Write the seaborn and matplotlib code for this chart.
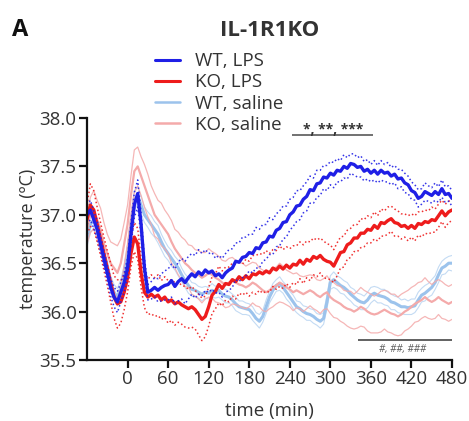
import numpy as np
import pandas as pd
import matplotlib
matplotlib.use("Agg")
import matplotlib.pyplot as plt
from matplotlib.lines import Line2D
import seaborn as sns

# ---------------- data ----------------
time_min = list(range(-60, 481, 5))

wt_lps_mean = [
    37.00, 37.05, 36.95, 36.85, 36.70, 36.55, 36.40, 36.25, 36.15, 36.10, 36.20, 36.30,
    36.45, 36.80, 37.10, 37.22, 36.90, 36.45, 36.20, 36.22, 36.25, 36.22, 36.25, 36.27,
    36.28, 36.32, 36.26, 36.31, 36.34, 36.30, 36.35, 36.39, 36.36, 36.41, 36.38, 36.43,
    36.40, 36.42, 36.37, 36.39, 36.35, 36.40, 36.43, 36.45, 36.52, 36.51, 36.56, 36.57,
    36.61, 36.60, 36.66, 36.65, 36.71, 36.72, 36.78, 36.77, 36.84, 36.86, 36.92, 36.93,
    37.00, 37.03, 37.09, 37.10, 37.16, 37.19, 37.26, 37.25, 37.32, 37.33, 37.39, 37.38,
    37.43, 37.41, 37.46, 37.45, 37.50, 37.48, 37.53, 37.52, 37.49, 37.50, 37.45, 37.47,
    37.43, 37.46, 37.42, 37.46, 37.43, 37.44, 37.40, 37.42, 37.37, 37.38, 37.33, 37.31,
    37.25, 37.23, 37.17, 37.19, 37.24, 37.22, 37.20, 37.24, 37.21, 37.27, 37.21, 37.22,
    37.17]
wt_lps_sem = [
    0.10, 0.10, 0.09, 0.09, 0.08, 0.08, 0.08, 0.09, 0.10, 0.11, 0.10, 0.10,
    0.10, 0.12, 0.13, 0.14, 0.12, 0.10, 0.08, 0.09, 0.10, 0.12, 0.14, 0.15,
    0.16, 0.17, 0.18, 0.20, 0.21, 0.22, 0.22, 0.21, 0.22, 0.23, 0.22, 0.21,
    0.20, 0.19, 0.18, 0.19, 0.20, 0.20, 0.21, 0.20, 0.19, 0.20, 0.21, 0.20,
    0.19, 0.20, 0.21, 0.20, 0.19, 0.18, 0.19, 0.18, 0.17, 0.18, 0.17, 0.16,
    0.16, 0.15, 0.16, 0.15, 0.14, 0.15, 0.14, 0.13, 0.14, 0.13, 0.12, 0.13,
    0.12, 0.13, 0.12, 0.11, 0.12, 0.11, 0.10, 0.11, 0.10, 0.11, 0.10, 0.10,
    0.09, 0.10, 0.09, 0.10, 0.09, 0.10, 0.09, 0.09, 0.10, 0.09, 0.10, 0.09,
    0.09, 0.08, 0.09, 0.08, 0.09, 0.08, 0.08, 0.09, 0.08, 0.09, 0.08, 0.08,
    0.08]

ko_lps_mean = [
    36.95, 37.10, 37.05, 36.90, 36.75, 36.60, 36.45, 36.30, 36.15, 36.08, 36.10, 36.20,
    36.35, 36.60, 36.77, 36.70, 36.40, 36.20, 36.15, 36.18, 36.15, 36.17, 36.12, 36.15,
    36.10, 36.12, 36.08, 36.10, 36.07, 36.05, 36.03, 36.05, 36.02, 35.97, 35.92, 35.95,
    36.05, 36.17, 36.21, 36.28, 36.24, 36.29, 36.28, 36.33, 36.31, 36.36, 36.33, 36.37,
    36.34, 36.39, 36.38, 36.41, 36.39, 36.42, 36.40, 36.45, 36.43, 36.47, 36.44, 36.48,
    36.45, 36.49, 36.48, 36.53, 36.49, 36.54, 36.52, 36.57, 36.55, 36.58, 36.54, 36.52,
    36.51, 36.47, 36.54, 36.61, 36.62, 36.69, 36.71, 36.76, 36.76, 36.81, 36.81, 36.85,
    36.84, 36.89, 36.86, 36.92, 36.91, 36.94, 36.96, 36.92, 36.91, 36.88, 36.89, 36.86,
    36.89, 36.86, 36.91, 36.90, 36.93, 36.92, 36.95, 36.94, 36.99, 37.04, 36.99, 37.03,
    37.05]
ko_lps_sem = [
    0.15, 0.22, 0.20, 0.18, 0.17, 0.17, 0.18, 0.20, 0.22, 0.25, 0.22, 0.18,
    0.15, 0.14, 0.15, 0.16, 0.15, 0.16, 0.18, 0.20, 0.20, 0.21, 0.20, 0.21,
    0.22, 0.21, 0.22, 0.21, 0.20, 0.21, 0.20, 0.21, 0.20, 0.21, 0.22, 0.21,
    0.20, 0.19, 0.18, 0.19, 0.18, 0.17, 0.18, 0.17, 0.18, 0.17, 0.16, 0.17,
    0.18, 0.19, 0.20, 0.19, 0.20, 0.21, 0.20, 0.19, 0.20, 0.21, 0.20, 0.19,
    0.20, 0.19, 0.20, 0.19, 0.20, 0.19, 0.20, 0.19, 0.19, 0.18, 0.19, 0.18,
    0.18, 0.17, 0.17, 0.16, 0.16, 0.15, 0.15, 0.14, 0.14, 0.15, 0.14, 0.14,
    0.13, 0.14, 0.13, 0.14, 0.13, 0.14, 0.13, 0.14, 0.13, 0.13, 0.12, 0.13,
    0.12, 0.13, 0.12, 0.13, 0.12, 0.12, 0.13, 0.12, 0.12, 0.11, 0.12, 0.11,
    0.11]

wt_sal_mean = [
    36.75, 36.90, 36.95, 36.85, 36.70, 36.55, 36.45, 36.30, 36.20, 36.15, 36.25, 36.40,
    36.60, 36.90, 37.15, 37.20, 37.10, 37.00, 36.95, 36.90, 36.85, 36.80, 36.72, 36.65,
    36.60, 36.55, 36.50, 36.45, 36.38, 36.32, 36.27, 36.23, 36.22, 36.20, 36.18, 36.20,
    36.19, 36.22, 36.20, 36.22, 36.18, 36.16, 36.15, 36.12, 36.08, 36.05, 36.04, 36.03,
    36.02, 35.98, 35.93, 35.90, 35.95, 36.05, 36.15, 36.22, 36.27, 36.29, 36.25, 36.20,
    36.15, 36.10, 36.05, 36.03, 36.00, 35.98, 35.97, 35.95, 35.92, 35.90, 35.93, 36.10,
    36.30, 36.33, 36.30, 36.27, 36.25, 36.22, 36.18, 36.15, 36.12, 36.10, 36.09, 36.12,
    36.17, 36.19, 36.17, 36.16, 36.15, 36.13, 36.10, 36.09, 36.07, 36.05, 36.05, 36.04,
    36.05, 36.06, 36.12, 36.17, 36.19, 36.22, 36.25, 36.30, 36.38, 36.45, 36.47, 36.50,
    36.50]
wt_sal_sem = [
    0.08, 0.09, 0.08, 0.07, 0.08, 0.07, 0.08, 0.07, 0.08, 0.09, 0.08, 0.08,
    0.09, 0.10, 0.10, 0.09, 0.09, 0.08, 0.08, 0.09, 0.08, 0.09, 0.08, 0.08,
    0.07, 0.08, 0.07, 0.08, 0.07, 0.07, 0.08, 0.07, 0.07, 0.06, 0.07, 0.06,
    0.06, 0.07, 0.06, 0.07, 0.06, 0.07, 0.06, 0.06, 0.07, 0.06, 0.07, 0.06,
    0.06, 0.07, 0.06, 0.07, 0.06, 0.07, 0.06, 0.07, 0.06, 0.07, 0.06, 0.07,
    0.06, 0.07, 0.06, 0.07, 0.06, 0.07, 0.06, 0.07, 0.06, 0.07, 0.06, 0.07,
    0.07, 0.08, 0.07, 0.08, 0.07, 0.08, 0.07, 0.08, 0.07, 0.08, 0.07, 0.08,
    0.08, 0.07, 0.08, 0.07, 0.08, 0.07, 0.08, 0.07, 0.08, 0.07, 0.08, 0.07,
    0.08, 0.07, 0.08, 0.07, 0.08, 0.07, 0.08, 0.07, 0.08, 0.07, 0.08, 0.07,
    0.08]

ko_sal_mean = [
    36.85, 37.00, 37.05, 36.95, 36.85, 36.70, 36.60, 36.50, 36.45, 36.40, 36.50, 36.70,
    36.90, 37.20, 37.45, 37.50, 37.40, 37.30, 37.20, 37.10, 37.00, 36.95, 36.90, 36.85,
    36.80, 36.72, 36.65, 36.60, 36.55, 36.50, 36.47, 36.43, 36.40, 36.38, 36.35, 36.37,
    36.40, 36.38, 36.35, 36.33, 36.30, 36.28, 36.30, 36.32, 36.30, 36.28, 36.27, 36.25,
    36.27, 36.30, 36.28, 36.25, 36.22, 36.20, 36.22, 36.25, 36.27, 36.30, 36.28, 36.25,
    36.23, 36.20, 36.22, 36.20, 36.18, 36.20, 36.22, 36.20, 36.17, 36.15, 36.18, 36.20,
    36.15, 36.12, 36.10, 36.08, 36.05, 36.03, 36.02, 36.00, 36.02, 36.05, 36.03, 36.00,
    35.98, 35.97, 35.98, 36.00, 36.02, 36.00, 35.98, 35.97, 35.95, 35.97, 36.00, 36.02,
    36.05, 36.08, 36.10, 36.12, 36.15, 36.12, 36.10, 36.12, 36.15, 36.12, 36.10, 36.08,
    36.10]
ko_sal_sem = [
    0.15, 0.18, 0.20, 0.20, 0.22, 0.22, 0.20, 0.22, 0.25, 0.28, 0.25, 0.22,
    0.20, 0.20, 0.22, 0.20, 0.20, 0.22, 0.22, 0.20, 0.22, 0.20, 0.22, 0.20,
    0.20, 0.22, 0.20, 0.22, 0.22, 0.24, 0.22, 0.25, 0.24, 0.25, 0.26, 0.24,
    0.25, 0.24, 0.25, 0.24, 0.23, 0.24, 0.25, 0.24, 0.23, 0.22, 0.23, 0.22,
    0.22, 0.21, 0.22, 0.20, 0.21, 0.20, 0.19, 0.20, 0.19, 0.20, 0.19, 0.18,
    0.18, 0.19, 0.18, 0.17, 0.18, 0.17, 0.16, 0.17, 0.16, 0.17, 0.16, 0.17,
    0.17, 0.18, 0.17, 0.18, 0.17, 0.18, 0.19, 0.18, 0.19, 0.20, 0.19, 0.20,
    0.20, 0.19, 0.20, 0.21, 0.20, 0.21, 0.20, 0.21, 0.20, 0.21, 0.20, 0.20,
    0.20, 0.19, 0.20, 0.19, 0.20, 0.19, 0.18, 0.19, 0.18, 0.19, 0.18, 0.18,
    0.18]

group_labels = ["WT, LPS", "KO, LPS", "WT, saline", "KO, saline"]
x_ticks = [0, 60, 120, 180, 240, 300, 360, 420, 480]
y_ticks = [35.5, 36.0, 36.5, 37.0, 37.5, 38.0]

# significance annotations (time range, temperature level, label)
sig_lps_range = (244, 363)
sig_lps_level = 37.82
sig_lps_text = "*, **, ***"
sig_ko_range = (341, 480)
sig_ko_level = 35.71
sig_ko_text = "#, ##, ###"

# ---------------- style ----------------
sns.set_theme(style="ticks")
plt.rcParams["font.family"] = ["Open Sans", "DejaVu Sans"]

colors = {
    "WT, LPS": "#1f1fe6",
    "KO, LPS": "#ee1c1c",
    "WT, saline": "#9cc3ec",
    "KO, saline": "#f4aaaa",
}

fig = plt.figure(figsize=(4.69, 4.21), dpi=100)
ax = fig.add_axes([0.1855, 0.1449, 0.7783, 0.5748])

t = np.array(time_min)
series = {
    "WT, saline": (np.array(wt_sal_mean), np.array(wt_sal_sem)),
    "KO, saline": (np.array(ko_sal_mean), np.array(ko_sal_sem)),
    "KO, LPS": (np.array(ko_lps_mean), np.array(ko_lps_sem)),
    "WT, LPS": (np.array(wt_lps_mean), np.array(wt_lps_sem)),
}
main_lw = {"WT, LPS": 2.4, "KO, LPS": 2.4, "WT, saline": 2.2, "KO, saline": 1.6}
sem_style = {"WT, LPS": ":", "KO, LPS": ":", "WT, saline": "-", "KO, saline": "-"}
sem_lw = {"WT, LPS": 1.1, "KO, LPS": 1.1, "WT, saline": 0.8, "KO, saline": 0.9}
sem_alpha = {"WT, LPS": 0.9, "KO, LPS": 0.9, "WT, saline": 0.6, "KO, saline": 0.85}

for name, (m, s) in series.items():
    df = pd.DataFrame({"time": t, "mean": m, "upper": m + s, "lower": m - s})
    for col in ["upper", "lower"]:
        sns.lineplot(data=df, x="time", y=col, ax=ax, color=colors[name],
                     lw=sem_lw[name], ls=sem_style[name], alpha=sem_alpha[name],
                     estimator=None, legend=False)
    sns.lineplot(data=df, x="time", y="mean", ax=ax, color=colors[name],
                 lw=main_lw[name], estimator=None, legend=False)

ax.set_xlim(-60, 480)
ax.set_ylim(35.5, 38.0)
ax.set_xticks(x_ticks)
ax.set_xticklabels([str(v) for v in x_ticks])
ax.set_yticks(y_ticks)
ax.set_yticklabels([f"{v:.1f}" for v in y_ticks])
sns.despine(ax=ax)
for sp in ["left", "bottom"]:
    ax.spines[sp].set_linewidth(1.6)
    ax.spines[sp].set_color("#111111")
ax.tick_params(axis="both", length=5.5, width=1.6, color="#111111",
               labelsize=13.5, labelcolor="#333333", pad=2)
ax.set_xlabel("time (min)", fontsize=13.5, color="#333333", labelpad=10)
ax.set_ylabel("temperature (ºC)", fontsize=13, color="#333333", labelpad=2)

# significance bars
ax.hlines(sig_lps_level, *sig_lps_range, color="#666666", lw=1.3, clip_on=False)
ax.text(np.mean(sig_lps_range), sig_lps_level + 0.06, sig_lps_text, ha="center",
        va="center", fontsize=10, fontweight="bold", color="#333333", clip_on=False)
ax.hlines(sig_ko_level, *sig_ko_range, color="#555555", lw=1.3, clip_on=False)
ax.text(np.mean(sig_ko_range) - 4, sig_ko_level - 0.04, sig_ko_text, ha="center",
        va="top", fontsize=7, color="#555555", style="italic")

# legend
handles = [Line2D([0], [0], color=colors[n], lw=2.2 if "LPS" in n else 1.8)
           for n in group_labels]
fig.legend(handles, group_labels, loc="upper left",
           bbox_to_anchor=(0.3305, 0.876), frameon=False, fontsize=13.5,
           handlelength=1.35, handletextpad=0.8, labelspacing=0.17,
           borderpad=0, borderaxespad=0, labelcolor="#333333")

fig.text(0.575, 1 - 30 / 421, "IL-1R1KO", ha="center", va="center",
         fontsize=16, fontweight="bold", color="#333333")
fig.text(12 / 469, 1 - 30 / 421, "A", ha="left", va="center",
         fontsize=17, fontweight="bold", color="#111111")

fig.savefig("out.png", dpi=100)
